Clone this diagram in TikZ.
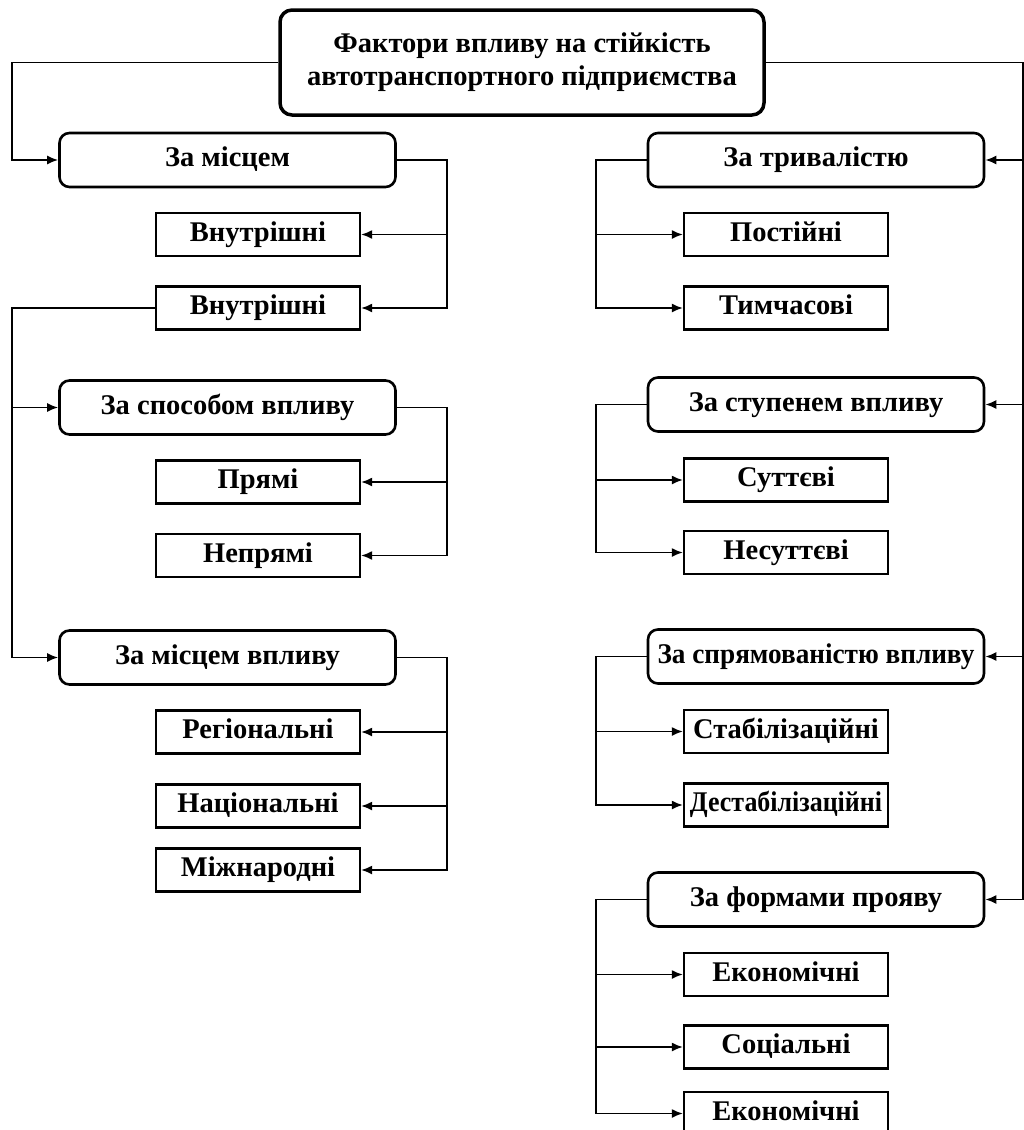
\documentclass[tikz,border=0pt]{standalone}
\usepackage{fontspec}
\setmainfont{Liberation Serif}
\usetikzlibrary{arrows.meta}
\begin{document}
\begin{tikzpicture}[x=1pt,y=-1pt,
  every node/.style={font=\fontsize{28.5}{33}\selectfont\bfseries, inner sep=0pt},
  oneline/.style={text height=13pt, text depth=0pt},
  titlebox/.style={draw, line width=3.5pt, rounded corners=12pt, minimum width=484pt, minimum height=105pt, align=center},
  groupbox/.style={oneline, draw, line width=2.6pt, rounded corners=10pt, minimum width=336pt, minimum height=54pt},
  itembox/.style={oneline, draw, line width=2.2pt, minimum width=204pt, minimum height=43pt},
  link/.style={draw, line width=1.8pt},
  arr/.style={link, -{Latex[length=11pt,width=9pt]}}
]
\useasboundingbox (0,0) rectangle (1024,1130);

% root
\node[titlebox] (root) at (522,62.5) {Фактори впливу на стійкість\\автотранспортного підприємства};

% left column: groups
\node[groupbox] (gplace)  at (227.5,160)   {За місцем};
\node[groupbox] (gmode)   at (227.5,407.5) {За способом впливу};
\node[groupbox] (garea)   at (227.5,657.5) {За місцем впливу};

% left column: items
\node[itembox] (inner1) at (258,234.5) {Внутрішні};
\node[itembox] (inner2) at (258,308)   {Внутрішні};
\node[itembox] (direct) at (258,482)   {Прямі};
\node[itembox] (indir)  at (258,555.5) {Непрямі};
\node[itembox] (region) at (258,732)   {Регіональні};
\node[itembox] (nation) at (258,806)   {Національні};
\node[itembox] (intl)   at (258,870)   {Міжнародні};

% right column: groups
\node[groupbox] (gtime)  at (816,160)   {За тривалістю};
\node[groupbox] (gdeg)   at (816,404.5) {За ступенем впливу};
\node[groupbox] (gdir)   at (816,656.5) {\scalebox{0.955}[1]{За спрямованістю впливу}};
\node[groupbox] (gform)  at (816,899.5) {За формами прояву};

% right column: items
\node[itembox] (const)  at (786,234.5) {Постійні};
\node[itembox] (temp)   at (786,308)   {Тимчасові};
\node[itembox] (major)  at (786,480)   {Суттєві};
\node[itembox] (minor)  at (786,552.5) {Несуттєві};
\node[itembox] (stab)   at (786,731.5) {Стабілізаційні};
\node[itembox] (destab) at (786,805)   {\scalebox{0.91}[1]{Дестабілізаційні}};
\node[itembox] (econ1)  at (786,974.5) {Економічні};
\node[itembox] (social) at (786,1047)  {Соціальні};
\node[itembox] (econ2)  at (786,1113.5){Економічні};

% trunk and bus positions
\coordinate (ltrunk) at (12,0);
\coordinate (rtrunk) at (1023,0);
\coordinate (lbus)   at (447,0);
\coordinate (rbus)   at (596,0);

% left trunk
\draw[arr] (root.west) -| (ltrunk |- gplace.west) -- (gplace.west);
\draw[arr] (inner2.west) -| (ltrunk |- garea.west) -- (garea.west);
\draw[arr] (ltrunk |- gmode.west) -- (gmode.west);

% right trunk
\draw[arr] (root.east) -| (rtrunk |- gform.east) -- (gform.east);
\draw[arr] (rtrunk |- gtime.east) -- (gtime.east);
\draw[arr] (rtrunk |- gdeg.east) -- (gdeg.east);
\draw[arr] (rtrunk |- gdir.east) -- (gdir.east);

% left buses
\draw[arr] (gplace.east) -| (lbus |- inner2.east) -- (inner2.east);
\draw[arr] (lbus |- inner1.east) -- (inner1.east);

\draw[arr] (gmode.east) -| (lbus |- indir.east) -- (indir.east);
\draw[arr] (lbus |- direct.east) -- (direct.east);

\draw[arr] (garea.east) -| (lbus |- intl.east) -- (intl.east);
\draw[arr] (lbus |- region.east) -- (region.east);
\draw[arr] (lbus |- nation.east) -- (nation.east);

% right buses
\draw[arr] (gtime.west) -| (rbus |- temp.west) -- (temp.west);
\draw[arr] (rbus |- const.west) -- (const.west);

\draw[arr] (gdeg.west) -| (rbus |- minor.west) -- (minor.west);
\draw[arr] (rbus |- major.west) -- (major.west);

\draw[arr] (gdir.west) -| (rbus |- destab.west) -- (destab.west);
\draw[arr] (rbus |- stab.west) -- (stab.west);

\draw[arr] (gform.west) -| (rbus |- econ2.west) -- (econ2.west);
\draw[arr] (rbus |- econ1.west) -- (econ1.west);
\draw[arr] (rbus |- social.west) -- (social.west);
\end{tikzpicture}
\end{document}
